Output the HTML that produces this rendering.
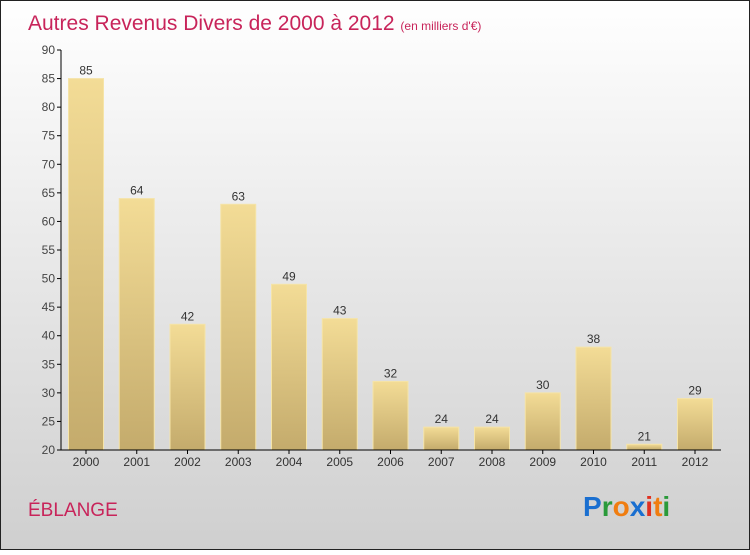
<!DOCTYPE html>
<html><head><meta charset="utf-8"><style>
body{margin:0;width:750px;height:550px;overflow:hidden;font-family:"Liberation Sans",sans-serif}
</style></head><body>
<svg id="c" width="750" height="550" xmlns="http://www.w3.org/2000/svg">
<defs>
<linearGradient id="bg" x1="0" y1="0" x2="0" y2="1"><stop offset="0" stop-color="#ffffff"/><stop offset="1" stop-color="#cfcfcf"/></linearGradient>
<linearGradient id="bar" x1="0" y1="0" x2="0" y2="1"><stop offset="0" stop-color="#f3dc96"/><stop offset="1" stop-color="#c4ab6c"/></linearGradient>
</defs>
<rect x="0.5" y="0.5" width="749" height="549" fill="url(#bg)" stroke="#222"/>
<text x="28" y="30" font-size="21" fill="#c8245a">Autres Revenus Divers de 2000 à 2012 <tspan font-size="12">(en milliers d'€)</tspan></text>
<text x="28" y="516" font-size="19" fill="#c8245a">ÉBLANGE</text>
<g id="plot"></g>
<g font-size="28" font-weight="bold" font-family="Liberation Sans, sans-serif">
<text x="583" y="516"><tspan fill="#1a6fd0">P</tspan><tspan fill="#2a9a3a">r</tspan><tspan fill="#f07d10">o</tspan><tspan fill="#1a6fd0">x</tspan><tspan fill="#e03020">i</tspan><tspan fill="#f07d10">t</tspan><tspan fill="#2a9a3a">i</tspan></text>
</g>
</svg>
<script>
const categories=["2000","2001","2002","2003","2004","2005","2006","2007","2008","2009","2010","2011","2012"];
const values=[85,64,42,63,49,43,32,24,24,30,38,21,29];
const yTicks=[20,25,30,35,40,45,50,55,60,65,70,75,80,85,90];
const NS="http://www.w3.org/2000/svg";
const g=document.getElementById('plot');
const y=v=>450-(v-20)*400/70;
const x=i=>86+i*50.75;
function el(t,a){const e=document.createElementNS(NS,t);for(const k in a)e.setAttribute(k,a[k]);g.appendChild(e);return e;}
yTicks.forEach(t=>{
 const l=el('line',{x1:57,x2:61,y1:y(t),y2:y(t),stroke:'#000'});
 
 
 const tx=el('text',{x:55,y:y(t)+4,'text-anchor':'end','font-size':12,fill:'#444'});
 tx.textContent=t;
 
 
});
values.forEach((v,i)=>{
 const r=el('rect',{x:x(i)-17.5,y:y(v),width:35,height:450-y(v),fill:'url(#bar)',stroke:'#f5e4a8','stroke-width':1});
 
 
 const lb=el('text',{x:x(i),y:y(v)-4,'text-anchor':'middle','font-size':12,fill:'#333'});
 lb.textContent=v;
 
 
 const tk=el('line',{x1:x(i),x2:x(i),y1:450,y2:454,stroke:'#000'});
 
 
 const cl=el('text',{x:x(i),y:466,'text-anchor':'middle','font-size':12,fill:'#333'});
 cl.textContent=categories[i];
 
 
});
const ya=el('line',{x1:61,x2:61,y1:50,y2:450,stroke:'#000'});


const xa=el('line',{x1:61,x2:721,y1:450,y2:450,stroke:'#000'});


</script>
</body></html>
